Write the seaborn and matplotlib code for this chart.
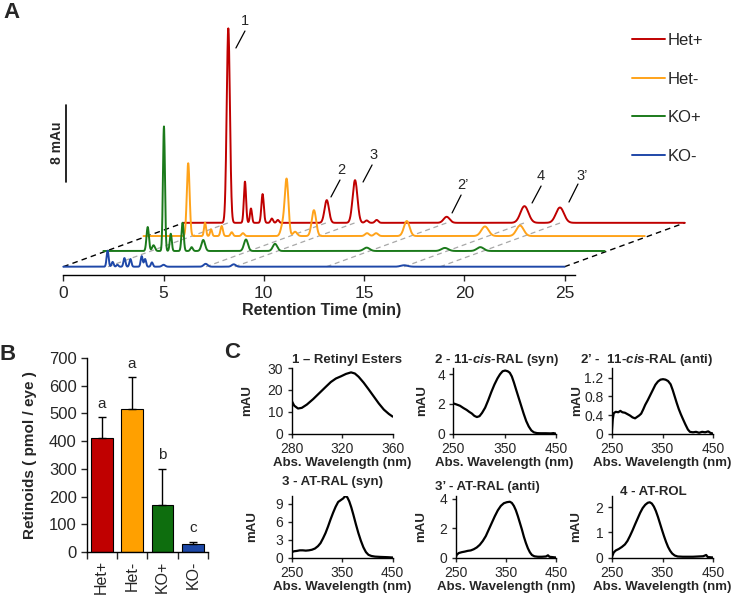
import numpy as np
import pandas as pd
import matplotlib
matplotlib.use("Agg")
import matplotlib.pyplot as plt
import seaborn as sns

# ---------------- data ----------------
# chromatogram peaks: (retention time, height in mAU, width)
het_pos_peaks = [(2.23, 20.3, 0.08), (3.06, 4.3, 0.055), (3.36, 1.5, 0.05), (3.94, 3.0, 0.06),
                 (4.4, 0.45, 0.06), (4.7, 0.3, 0.06), (7.14, 2.37, 0.11), (8.55, 4.45, 0.12),
                 (9.13, 0.25, 0.08), (9.63, 0.3, 0.08), (13.12, 0.63, 0.15), (17.0, 1.74, 0.2),
                 (18.77, 1.6, 0.2)]
het_neg_peaks = [(2.23, 7.6, 0.07), (3.07, 1.4, 0.05), (3.37, 0.7, 0.05), (3.9, 1.05, 0.06),
                 (4.4, 0.4, 0.06), (4.96, 0.3, 0.07), (6.95, 1.2, 0.1), (7.14, 5.8, 0.09),
                 (7.56, 0.45, 0.1), (8.5, 2.7, 0.11), (11.15, 0.3, 0.1), (11.6, 0.3, 0.1),
                 (13.13, 1.57, 0.14), (17.03, 1.0, 0.18), (18.78, 1.1, 0.18)]
ko_pos_peaks = [(2.21, 2.5, 0.06), (2.5, 0.6, 0.07), (3.02, 13.0, 0.05), (3.36, 1.8, 0.05),
                (3.95, 2.95, 0.055), (4.4, 0.4, 0.06), (4.98, 1.15, 0.09), (7.11, 1.2, 0.1),
                (8.56, 0.75, 0.11), (13.13, 0.35, 0.15), (17.03, 0.32, 0.17), (18.8, 0.4, 0.17)]
ko_neg_peaks = [(2.21, 1.67, 0.05), (2.46, 0.5, 0.05), (2.7, 0.2, 0.05), (3.05, 0.9, 0.05),
                (3.35, 0.8, 0.05), (3.91, 1.1, 0.05), (4.08, 0.8, 0.05), (4.42, 0.45, 0.05),
                (5.0, 0.2, 0.08), (7.1, 0.3, 0.1), (8.5, 0.25, 0.1), (17.0, 0.15, 0.17)]

trace_names = ["Het+", "Het-", "KO+", "KO-"]
trace_colors = ["#C00000", "#FFA31A", "#1B7A1B", "#1F48A8"]
trace_peaks = [het_pos_peaks, het_neg_peaks, ko_pos_peaks, ko_neg_peaks]
shift_time = [6, 4, 2, 0]
shift_mau = [4.58, 3.2, 1.64, 0]
guide_times = [2.23, 7.12, 8.55, 13.13, 17.0, 18.8]

peak_ids = ["1", "2", "3", "2’", "4", "3’"]
peak_label_xy = [(9.06, 25.65), (13.85, 10.09), (15.45, 11.66), (19.94, 8.53), (23.83, 9.47), (25.87, 9.47)]
peak_line_xy = [((8.61, 22.83), (9.06, 24.6)), ((13.35, 7.28), (13.8, 9.05)), ((14.95, 8.84), (15.4, 10.62)),
                ((19.39, 5.61), (19.84, 7.48)), ((23.38, 6.65), (23.83, 8.42)), ((25.22, 6.75), (25.67, 8.63))]

# bar chart
groups = ["Het+", "Het-", "KO+", "KO-"]
retinoids = [410, 515, 168, 29]
retinoids_err = [77, 115, 133, 8]
sig_letters = ["a", "a", "b", "c"]
bar_colors = ["#C00000", "#FFA000", "#0E6E0E", "#1C47A6"]

# spectra
re_wl = [280, 282, 285, 288, 292, 297, 302, 307, 311, 315, 319, 323, 327, 330, 333, 337, 341, 345, 349, 353, 357, 360]
re_abs = [15, 12.8, 11.5, 11.8, 13.3, 15.8, 18.6, 21.4, 23.6, 25.2, 26.2, 27.3, 28.0, 27.5, 26.0, 23.3, 20.2,
          17.0, 13.8, 11.0, 9.0, 7.8]
cis_syn_wl = [250, 256, 263, 270, 276, 281, 286, 291, 296, 301, 306, 312, 318, 324, 330, 336, 341, 346, 351,
              356, 360, 364, 368, 372, 377, 382, 387, 392, 397, 402, 407, 413, 420, 430, 440, 445, 450]
cis_syn_abs = [2.04, 1.97, 1.88, 1.72, 1.6, 1.47, 1.36, 1.2, 1.12, 1.18, 1.4, 1.75, 2.25, 2.8, 3.3, 3.72, 4.0,
               4.2, 4.25, 4.2, 4.1, 3.85, 3.45, 3.0, 2.45, 1.9, 1.35, 0.85, 0.48, 0.22, 0.09, 0.04, 0.03,
               0.03, 0.02, 0.04, 0.0]
cis_anti_wl = [250, 252, 254, 258, 263, 267, 271, 276, 281, 286, 291, 296, 300, 304, 308, 312, 316, 321, 326,
               331, 336, 341, 346, 351, 356, 361, 366, 370, 374, 378, 382, 386, 390, 395, 400, 404, 410, 416,
               422, 428, 434, 440, 444, 450]
cis_anti_abs = [0.0, 0.3, 0.44, 0.47, 0.46, 0.49, 0.46, 0.45, 0.42, 0.39, 0.35, 0.33, 0.36, 0.39, 0.43, 0.52,
                0.62, 0.72, 0.83, 0.94, 1.05, 1.12, 1.16, 1.17, 1.16, 1.13, 1.06, 0.94, 0.8, 0.66, 0.53, 0.42,
                0.32, 0.2, 0.09, 0.04, 0.03, 0.04, 0.02, 0.04, 0.03, 0.05, 0.02, 0.0]
at_syn_wl = [250, 255, 260, 266, 272, 278, 284, 290, 296, 302, 307, 312, 317, 322, 327, 332, 337, 342, 347, 352,
             356, 360, 364, 368, 372, 377, 382, 387, 392, 397, 402, 408, 415, 425, 440, 450]
at_syn_abs = [0.9, 1.05, 1.1, 1.2, 1.2, 1.15, 1.2, 1.3, 1.5, 1.9, 2.4, 3.2, 4.1, 5.2, 6.4, 7.5, 8.5, 9.3, 9.6,
              9.9, 10.3, 10.1, 9.4, 8.4, 7.2, 5.6, 4.1, 2.8, 1.7, 0.9, 0.45, 0.25, 0.15, 0.1, 0.05, 0.0]
at_anti_wl = [250, 252, 256, 262, 268, 274, 280, 286, 292, 298, 304, 310, 316, 322, 328, 334, 340, 346, 352, 358,
              362, 366, 370, 374, 378, 382, 386, 390, 394, 398, 402, 407, 414, 422, 430, 434, 437, 442, 450]
at_anti_abs = [0.0, 0.18, 0.3, 0.36, 0.4, 0.45, 0.48, 0.56, 0.68, 0.86, 1.12, 1.45, 1.9, 2.35, 2.8, 3.2, 3.5,
               3.68, 3.75, 3.78, 3.7, 3.5, 3.2, 2.8, 2.35, 1.9, 1.4, 0.98, 0.62, 0.35, 0.17, 0.08, 0.05, 0.05,
               0.07, 0.15, 0.05, 0.03, 0.0]
rol_wl = [250, 254, 258, 264, 270, 276, 281, 286, 291, 296, 301, 306, 311, 316, 321, 325, 329, 333, 337, 341,
          345, 349, 353, 357, 361, 365, 369, 374, 380, 390, 400, 410, 420, 430, 436, 439, 450]
rol_abs = [0.0, 0.2, 0.28, 0.34, 0.42, 0.52, 0.66, 0.86, 1.08, 1.32, 1.55, 1.78, 1.97, 2.1, 2.18, 2.2, 2.15,
           2.03, 1.85, 1.62, 1.36, 1.1, 0.85, 0.62, 0.42, 0.27, 0.16, 0.08, 0.04, 0.03, 0.03, 0.03, 0.04, 0.05,
           0.1, 0.02, 0.0]

# ---------------- style ----------------
sns.set_style("ticks")
plt.rcParams['font.family'] = ['Liberation Sans', 'DejaVu Sans']
plt.rcParams['mathtext.fontset'] = 'custom'
plt.rcParams['mathtext.rm'] = 'Liberation Sans'
plt.rcParams['mathtext.bfit'] = 'Liberation Sans:italic:bold'
plt.rcParams['axes.linewidth'] = 1.0
plt.rcParams['axes.edgecolor'] = 'black'

W, H = 750, 597
fig = plt.figure(figsize=(7.5, 5.97), dpi=100)


def box(l, t, r, b):
    return fig.add_axes([l / W, 1 - b / H, (r - l) / W, (b - t) / H])


# ---------------- panel A ----------------
axA = box(40, 15, 745, 290)
axA.set_xlim((40 - 63.3) / 20.05, (745 - 63.3) / 20.05)
axA.set_ylim((266.7 - 290) / 9.58, (266.7 - 15) / 9.58)

time = np.linspace(0, 25, 2501)
for gt in guide_times:
    axA.plot([gt, gt + shift_time[0]], [0, shift_mau[0]], color="#A8A8A8", lw=0.9,
             dashes=(4, 3), zorder=1)
axA.plot([0, shift_time[0]], [0, shift_mau[0]], color="black", lw=1.0, dashes=(4, 3), zorder=1)
axA.plot([25, 25 + shift_time[0]], [0, shift_mau[0]], color="black", lw=1.0, dashes=(4, 3), zorder=1)

for i, (name, col, pk) in enumerate(zip(trace_names, trace_colors, trace_peaks)):
    signal = np.zeros_like(time)
    for t0, h, w in pk:
        signal += h * np.exp(-0.5 * ((time - t0) / w) ** 2)
    sns.lineplot(x=time + shift_time[i], y=signal + shift_mau[i], ax=axA, color=col, lw=1.4,
                 label=name, estimator=None, sort=False, zorder=2 + i)

for lab, (tx, ty), (p0, p1) in zip(peak_ids, peak_label_xy, peak_line_xy):
    axA.plot([p0[0], p1[0]], [p0[1], p1[1]], color="black", lw=0.9)
    axA.text(tx, ty, lab, ha="center", va="center", fontsize=10.5)

# scale bar
axA.plot([0.13, 0.13], [8.87, 16.87], color="black", lw=1.2)
axA.text(-0.3, 12.9, "8 mAu", rotation=90, ha="center", va="center", fontsize=10, fontweight="bold")

for s in ["left", "top", "right"]:
    axA.spines[s].set_visible(False)
axA.spines["bottom"].set_position(("data", (266.7 - 274.5) / 9.58))
axA.spines["bottom"].set_bounds(0, 25.5)
axA.set_yticks([])
axA.set_xticks([0, 5, 10, 15, 20, 25])
axA.tick_params(axis="x", direction="out", length=4, width=1, pad=4.5, labelsize=12.5)
axA.set_xlabel("Retention Time (min)", fontsize=11.5, fontweight="bold")
axA.xaxis.set_label_coords((322 - 40) / 705, -(303 - 290) / 275)
axA.xaxis.label.set_va("top")
axA.set_ylabel("")

handles, labels = axA.get_legend_handles_labels()
axA.legend(handles, labels, loc="upper left", bbox_to_anchor=(632 / W, 1 - 33 / H),
           bbox_transform=fig.transFigure, frameon=False, fontsize=12, handlelength=2.0,
           handletextpad=0.15, labelspacing=1.42, borderpad=0, borderaxespad=0)

# ---------------- panel B ----------------
axB = box(86.5, 358, 208, 552)
sns.barplot(x=groups, y=retinoids, hue=groups, palette=bar_colors, legend=False, width=0.72,
            saturation=1, edgecolor="black", linewidth=0.8, ax=axB, zorder=2)
axB.errorbar(range(len(groups)), retinoids, yerr=[np.zeros(len(groups)), retinoids_err], fmt="none",
             ecolor="black", elinewidth=1.0, capsize=3, capthick=1.0, zorder=3)
for i, lt in enumerate(sig_letters):
    axB.text(i, retinoids[i] + retinoids_err[i] + 48, lt, ha="center", va="center", fontsize=11)
axB.set_ylim(0, 700)
axB.set_xlim(-0.5, 3.5)
axB.set_yticks(range(0, 701, 100))
axB.set_xticks([-0.5, 0.5, 1.5, 2.5, 3.5])
axB.set_xticklabels([])
axB.set_xticks(range(4), minor=True)
axB.set_xticklabels(groups, minor=True, rotation=90, fontsize=11.5)
axB.tick_params(axis="x", which="minor", length=0, pad=6)
axB.tick_params(axis="x", which="major", length=5, width=1)
axB.tick_params(axis="y", length=4, width=1, pad=3, labelsize=12)
axB.set_ylabel("Retinoids ( pmol / eye )", fontsize=11, fontweight="bold")
axB.yaxis.set_label_coords(-(86.5 - 37) / 121.5, 0.5)
sns.despine(ax=axB)

# ---------------- panel C ----------------
spectra = [
    (re_wl, re_abs, (291.7, 368, 392.7, 433.7), (280, 360), [280, 320, 360], (0, 30), [0, 10, 20, 30], ["0", "10", "20", "30"], 253),
    (cis_syn_wl, cis_syn_abs, (453.3, 368, 556, 433.7), (250, 450), [250, 350, 450], (0, 4.42), [0, 2, 4], ["0", "2", "4"], 428),
    (cis_anti_wl, cis_anti_abs, (611.7, 368, 713.3, 433.7), (250, 450), [250, 350, 450], (0, 1.41), [0, 0.4, 0.8, 1.2], ["0", "0.4", "0.8", "1.2"], 583),
    (at_syn_wl, at_syn_abs, (291.7, 496, 392.7, 557.5), (250, 450), [250, 350, 450], (0, 10.3), [0, 3, 6, 9], ["0", "3", "6", "9"], 258),
    (at_anti_wl, at_anti_abs, (455.7, 496, 556, 557.5), (250, 450), [250, 350, 450], (0, 4.17), [0, 2, 4], ["0", "2", "4"], 427),
    (rol_wl, rol_abs, (611.7, 496, 713.3, 557.5), (250, 450), [250, 350, 450], (0, 2.45), [0, 1, 2], ["0", "1", "2"], 582),
]
titles = ["1 – Retinyl Esters", r"2 - 11-$\mathbfit{cis}$-RAL (syn)", r"2’ -  11-$\mathbfit{cis}$-RAL (anti)",
          "3 - AT-RAL (syn)", "3’ - AT-RAL (anti)", "4 - AT-ROL"]
title_xy = [(347, 360), (497, 360), (647, 360), (332, 482), (487, 487), (653, 492)]

for (wl, ab, bx, xl, xt, yl, yt, ytl, ylab_px), title, (tx, ty) in zip(spectra, titles, title_xy):
    ax = box(*bx)
    sns.lineplot(x=wl, y=ab, ax=ax, color="black", lw=1.6, estimator=None, sort=False)
    ax.set_xlim(*xl)
    ax.set_ylim(*yl)
    ax.set_xticks(xt)
    ax.set_yticks(yt)
    ax.set_yticklabels(ytl)
    ax.tick_params(length=3, width=1, pad=3, labelsize=10)
    sns.despine(ax=ax)
    ax.set_xlabel("Abs. Wavelength (nm)", fontsize=9.5, fontweight="bold", labelpad=1)
    ax.set_ylabel("mAU", fontsize=9.5, fontweight="bold")
    ax.yaxis.set_label_coords((ylab_px - bx[0]) / (bx[2] - bx[0]), 0.5)
    fig.text(tx / W, 1 - ty / H, title, ha="center", va="center", fontsize=9.5, fontweight="bold")

# panel letters
fig.text(11 / W, 1 - 12 / H, "A", ha="center", va="center", fontsize=16, fontweight="bold")
fig.text(8 / W, 1 - 355 / H, "B", ha="center", va="center", fontsize=16, fontweight="bold")
fig.text(232 / W, 1 - 352 / H, "C", ha="center", va="center", fontsize=16, fontweight="bold")

fig.savefig("out.png", dpi=100)
